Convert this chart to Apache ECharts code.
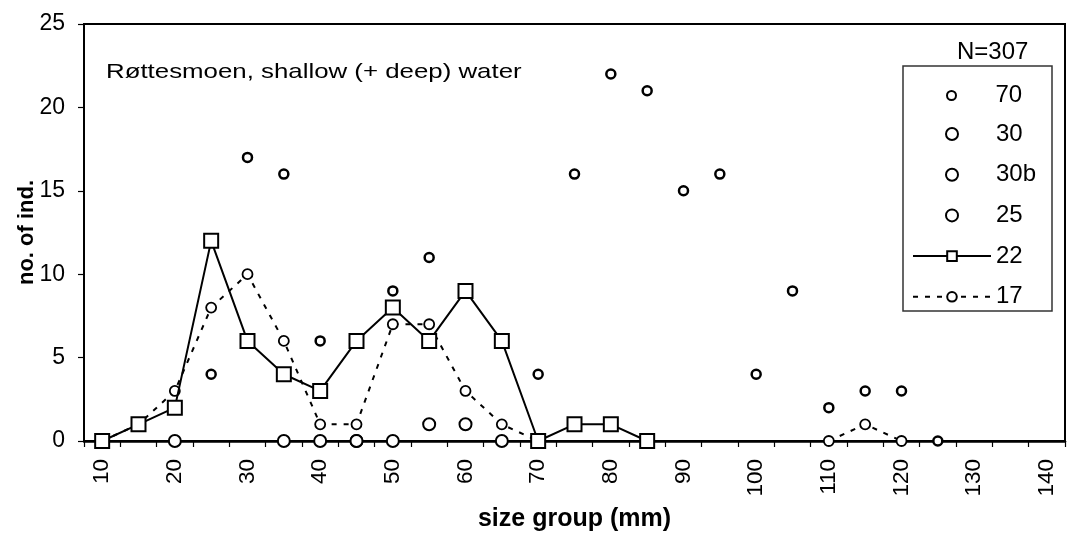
<!DOCTYPE html>
<html>
<head>
<meta charset="utf-8">
<script src="https://cdn.jsdelivr.net/npm/echarts@6/dist/echarts.min.js"></script>
<style>html,body{margin:0;padding:0;background:#fff;}#c{width:1067px;height:535px;}</style>
</head>
<body>
<div id="c"></div>
<script>
// size groups (mm)
const categories = ['10','15','20','25','30','35','40','45','50','55','60','65','70','75','80','85','90','95','100','105','110','115','120','125','130','135','140'];
// series values (null = no point)
const s70  = [null,null,null,4,17,16,6,null,9,11,null,null,4,16,22,21,15,16,4,9,2,3,3,0,null,null,null];
const s30  = [null,null,null,null,null,0,null,null,0,1,1,null,null,null,null,null,null,null,null,null,null,null,null,null,null,null,null];
const s30b = [null,null,null,null,null,null,null,0,null,null,null,0,null,null,null,null,null,null,null,null,null,null,null,null,null,null,null];
const s25  = [null,null,0,null,null,null,0,0,null,null,null,null,null,null,null,null,null,null,null,null,null,null,null,null,null,null,null];
const s22  = [0,1,2,12,6,4,3,6,8,6,9,6,0,1,1,0,null,null,null,null,null,null,null,null,null,null,null];
const s17  = [0,1,3,8,10,6,1,1,7,7,3,1,0,null,null,null,null,null,null,null,0,1,0,null,null,null,null];
const yTicks = [0,5,10,15,20,25];

const FONT = 'Liberation Sans, Arial, sans-serif';
const chart = echarts.init(document.getElementById('c'), null, {renderer:'canvas'});
const toData = a => a.map(v => v === null ? '-' : v);

const scatterStyle = (size, bw) => ({
  type:'scatter', symbol:'circle', symbolSize:size,
  itemStyle:{color:'#fff', borderColor:'#000', borderWidth:bw, opacity:1},
  z:3
});

chart.setOption({
  backgroundColor:'#fff',
  animation:false,
  textStyle:{fontFamily:FONT, color:'#000'},
  title:[
    {text:'N=307', left:957, top:40, padding:0,
     textStyle:{fontFamily:FONT, fontSize:24, fontWeight:'normal', color:'#000', lineHeight:24}}
  ],
  graphic:[
    {type:'rect', shape:{x:903, y:66, width:149, height:245}, style:{fill:'none', stroke:'#333', lineWidth:1.5}, z:10},
    {type:'text', x:106, y:72, scaleX:1.23, scaleY:1,
     style:{text:'Røttesmoen, shallow (+ deep) water', fontFamily:FONT, fontSize:21, fill:'#000', verticalAlign:'middle', align:'left'}, z:10}
  ],
  legend:[
    {data:['30','30b','25','22','17'], orient:'vertical', align:'left', left:912, top:122, padding:0, itemWidth:78, itemHeight:12, itemGap:16.7,
     textStyle:{fontFamily:FONT, fontSize:24, color:'#000', lineHeight:24}},
    {data:['70'], orient:'vertical', align:'left', left:946, top:83.5, padding:0, itemWidth:78, itemHeight:9,
     textStyle:{fontFamily:FONT, fontSize:24, color:'#000', lineHeight:24}}
  ],
  grid:{left:84, right:2, top:24, bottom:94, outerBoundsMode:'none', containLabel:false, show:true, borderColor:'#000', borderWidth:2, backgroundColor:'transparent'},
  xAxis:{
    type:'category', data:categories, boundaryGap:true,
    name:'size group (mm)', nameLocation:'middle', nameGap:66, nameMoveOverlap:false,
    nameTextStyle:{fontFamily:FONT, fontSize:25, fontWeight:'bold', color:'#000'},
    axisLine:{show:true, lineStyle:{color:'#000', width:2.5}},
    axisTick:{show:true, interval:0, length:6, lineStyle:{color:'#000', width:1.2}},
    axisLabel:{interval:1, rotate:90, fontFamily:FONT, fontSize:22.5, color:'#000', margin:18},
    splitLine:{show:false}
  },
  yAxis:{
    type:'value', min:yTicks[0], max:yTicks[yTicks.length-1], interval:5,
    name:'no. of ind.', nameLocation:'middle', nameGap:46, nameMoveOverlap:false,
    nameTextStyle:{fontFamily:FONT, fontSize:22, fontWeight:'bold', color:'#000'},
    axisLine:{show:true, lineStyle:{color:'#000', width:2}},
    axisTick:{show:true, length:6, lineStyle:{color:'#000', width:1.2}},
    axisLabel:{fontFamily:FONT, fontSize:23, color:'#000', margin:19},
    splitLine:{show:false}
  },
  series:[
    Object.assign({name:'70', data:toData(s70)}, scatterStyle(9, 2.5)),
    Object.assign({name:'30', data:toData(s30)}, scatterStyle(12, 2)),
    Object.assign({name:'30b', data:toData(s30b)}, scatterStyle(12, 2)),
    Object.assign({name:'25', data:toData(s25)}, scatterStyle(12, 2)),
    {name:'22', type:'line', data:s22, symbol:'rect', symbolSize:14, showAllSymbol:true, connectNulls:false,
     lineStyle:{color:'#000', width:2},
     itemStyle:{color:'#fff', borderColor:'#000', borderWidth:2},
     z:5},
    {name:'17', type:'line', data:s17, symbol:'circle', symbolSize:10, showAllSymbol:true, connectNulls:false,
     lineStyle:{color:'#000', width:2, type:[5,7]},
     itemStyle:{color:'#fff', borderColor:'#000', borderWidth:1.8},
     z:4}
  ]
});
</script>
</body>
</html>
